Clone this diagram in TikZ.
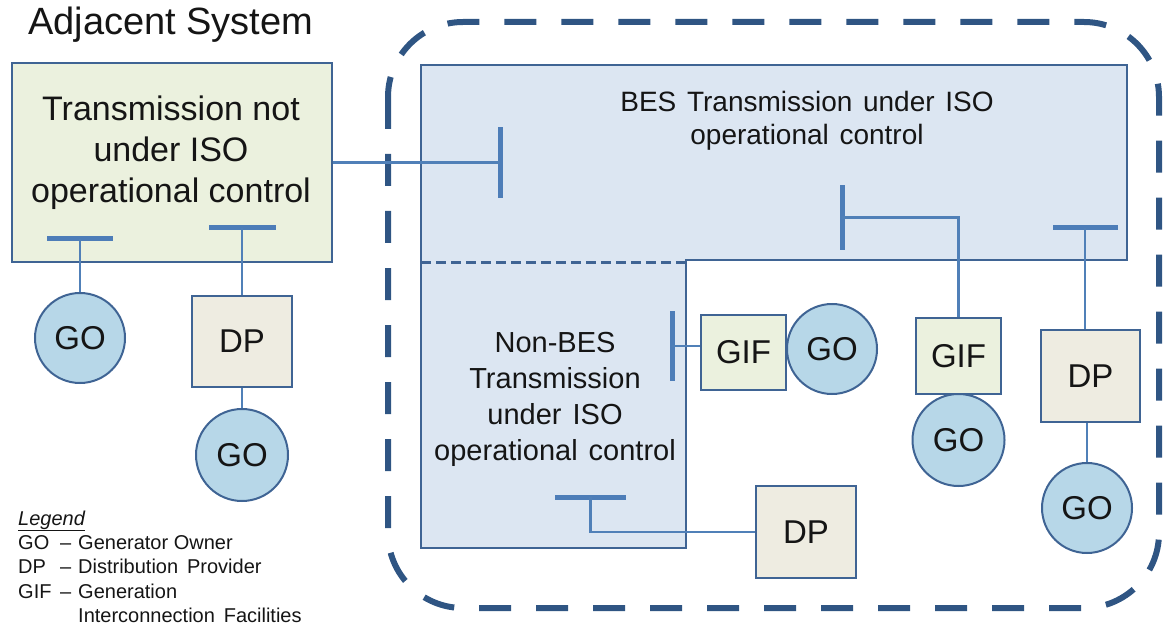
\documentclass[tikz,border=0pt]{standalone}
\usepackage{fontspec}
\setmainfont{Liberation Sans}
\definecolor{boxc}{HTML}{3F6494}
\definecolor{barc}{HTML}{4D7DB8}
\definecolor{wirec}{HTML}{5080B8}
\definecolor{outerc}{HTML}{2F5583}
\definecolor{greenfill}{HTML}{EBF1DE}
\definecolor{bluefill}{HTML}{DCE6F2}
\definecolor{beigefill}{HTML}{EEECE1}
\definecolor{gofill}{HTML}{B7D7E8}
\definecolor{txt}{HTML}{151515}
\newcommand\mywidespace{\spaceskip=0.38em plus 0.1em\relax}
\begin{document}
\begin{tikzpicture}[x=1pt,y=-1pt,
  every node/.style={text=txt},
  lbl/.style={font=\fontsize{33}{33}\selectfont, inner sep=0},
  gonode/.style={circle, draw=boxc, fill=gofill, line width=2pt, minimum size=90pt, inner sep=0, lbl},
  dpnode/.style={rectangle, draw=boxc, fill=beigefill, line width=2.2pt, minimum width=100pt, minimum height=91pt, inner sep=0, lbl},
  gifnode/.style={rectangle, draw=boxc, fill=greenfill, line width=2.5pt, minimum width=85pt, minimum height=75pt, inner sep=0, lbl},
  hbar/.style={rectangle, fill=barc, inner sep=0, minimum height=5pt},
  vbar/.style={rectangle, fill=barc, inner sep=0, minimum width=5pt},
  wire/.style={draw=wirec, line width=2.2pt},
  legend/.style={anchor=base west, inner sep=0, font=\fontsize{20}{20}\selectfont},
  areatext/.style={align=center, inner sep=0, font=\fontsize{28}{33}\selectfont\mywidespace}
]
\useasboundingbox (0,0) rectangle (1166,628);

% outer dashed boundary of the ISO area
\draw[outerc, line width=6pt, dash pattern=on 32pt off 25pt, rounded corners=75pt]
  (388,22) rectangle (1159,608);

% BES / Non-BES area
\fill[bluefill] (421,65) -- (1127,65) -- (1127,260) -- (686,260) -- (686,548) -- (421,548) -- cycle;
\draw[boxc, line width=2.5pt] (421,262) -- (421,65) -- (1127,65) -- (1127,260) -- (686,260) -- (686,548) -- (421,548) -- (421,262);
\draw[boxc, line width=3pt, dash pattern=on 10pt off 5pt] (421,262) -- (686,262);
\node[areatext] (bestext) at (807,121) {BES Transmission under ISO\\operational control};
\node[areatext, font=\fontsize{29}{36}\selectfont\mywidespace] (nonbestext) at (555,399) {Non-BES\\Transmission\\under ISO\\operational control};

% Adjacent system
\node[anchor=base west, inner sep=0, font=\fontsize{38}{38}\selectfont] (title) at (28,35) {Adjacent System};
\node[rectangle, draw=boxc, fill=greenfill, line width=2.5pt, minimum width=320pt, minimum height=199pt, inner sep=0] (adj) at (172,162.5) {};
\node[align=center, inner sep=0, font=\fontsize{34}{41}\selectfont] (adjtext) at (171,153) {Transmission not\\under ISO\\operational control};

% left side elements
\node[hbar, minimum width=66pt] (tb1) at (80,239) {};
\node[gonode] (go1) at (80,338) {GO};
\node[hbar, minimum width=67pt] (tb2) at (242,228) {};
\node[dpnode] (dp1) at (242,341.5) {DP};
\node[gonode, minimum size=92pt] (go2) at (242,455) {GO};
\draw[wire] (tb1.center) -- (go1.north);
\draw[wire] (tb2.center) -- (dp1.north);
\draw[wire] (dp1.south) -- (go2.north);

% tie line to BES
\node[vbar, minimum height=71pt] (tb3) at (500,162.5) {};
\draw[wire] (adj.east) -- (tb3.center);

% GIF + GO attached to Non-BES
\node[vbar, minimum height=70pt] (tb4) at (672,346) {};
\node[gifnode] (gif1) at (743.5,352.5) {GIF};
\node[gonode] (go3) at (832,349) {GO};
\draw[wire] (tb4.center) -- (tb4.center -| gif1.west);

% GIF + GO attached to BES
\node[vbar, minimum height=65pt] (tb5) at (842,217.5) {};
\node[gifnode, minimum height=76pt] (gif2) at (958.5,356) {GIF};
\node[gonode, minimum size=92pt] (go4) at (958.5,440) {GO};
\draw[wire] (tb5.center) -| (gif2.north);

% DP + GO attached to BES
\node[hbar, minimum width=65pt] (tb6) at (1085,228) {};
\node[dpnode, minimum width=99pt, minimum height=92pt] (dp2) at (1090.5,376) {DP};
\node[gonode] (go5) at (1087,508) {GO};
\draw[wire] (tb6.center) -- (tb6.center |- dp2.north);
\draw[wire] (go5.north |- dp2.south) -- (go5.north);

% DP attached to Non-BES
\node[hbar, minimum width=71pt] (tb7) at (590.5,497) {};
\node[dpnode, minimum height=92pt] (dp3) at (806,532) {DP};
\draw[wire] (tb7.center) |- (dp3.west);

% legend
\node[legend] (lg) at (18,525) {\underline{\textit{Legend}}};
\node[legend] (lga) at (18,549) {GO};
\node[legend] (lgad) at (60,549) {–};
\node[legend] (lgat) at (78,549) {Generator Owner};
\node[legend] (lgb) at (18,573) {DP};
\node[legend] (lgbd) at (60,573) {–};
\node[legend] (lgbt) at (78,573) {Distribution\ \,Provider};
\node[legend] (lgc) at (18,598) {GIF};
\node[legend] (lgcd) at (60,598) {–};
\node[legend] (lgct) at (78,598) {Generation};
\node[legend] (lgct2) at (78,622) {Interconnection\ \,Facilities};
\end{tikzpicture}
\end{document}
